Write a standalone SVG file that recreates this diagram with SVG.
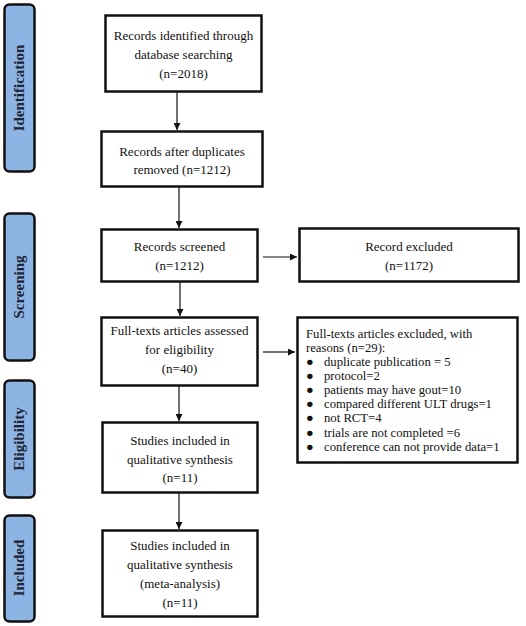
<svg xmlns="http://www.w3.org/2000/svg" width="526" height="626" viewBox="0 0 526 626">
<style>
.stage rect{fill:#8DB4E2;stroke:#111;stroke-width:2.5}
.stage text{font-family:"Liberation Serif",serif;font-weight:bold;font-size:15px;fill:#1C2538;text-anchor:middle}
.box rect{fill:#fff;stroke:#111;stroke-width:2.5}
.box text{font-family:"Liberation Serif",serif;font-size:13px;fill:#111;text-anchor:middle}
.box text.l{text-anchor:start;font-size:12.7px}
.conn line{stroke:#111;stroke-width:1.2;marker-end:url(#ah)}
</style>
<defs>
<marker id="ah" viewBox="0 0 10 10" refX="10" refY="5" markerWidth="8" markerHeight="7" markerUnits="userSpaceOnUse" orient="auto">
<path d="M0,0 L10,5 L0,10 z" fill="#111"/>
</marker>
</defs>
<rect width="526" height="626" fill="#fff"/>
<g id="stage-identification" class="stage"><rect x="4.5" y="4.5" width="30" height="167" rx="5"/><text transform="translate(24,88) rotate(-90)">Identification</text></g>
<g id="stage-screening" class="stage"><rect x="4.5" y="213.5" width="30" height="147" rx="5"/><text transform="translate(24,287) rotate(-90)">Screening</text></g>
<g id="stage-eligibility" class="stage"><rect x="4.5" y="380.5" width="30" height="117" rx="5"/><text transform="translate(24,439) rotate(-90)">Eligibility</text></g>
<g id="stage-included" class="stage"><rect x="4.5" y="515.5" width="30" height="106" rx="5"/><text transform="translate(24,568) rotate(-90)">Included</text></g>
<g id="n1" class="box"><rect x="105.5" y="15.5" width="156" height="76"/><text x="183.5" y="39.5">Records identified through</text><text x="183.5" y="58.5">database searching</text><text x="183.5" y="77.5">(n=2018)</text></g>
<g id="n2" class="box"><rect x="101.5" y="131.5" width="161" height="55"/><text x="182" y="155.5">Records after duplicates</text><text x="182" y="173.5">removed (n=1212)</text></g>
<g id="n3" class="box"><rect x="101.5" y="229.5" width="156" height="52"/><text x="179.5" y="251">Records screened</text><text x="179.5" y="270">(n=1212)</text></g>
<g id="n4" class="box"><rect x="299.5" y="228.5" width="219" height="53"/><text x="409" y="251">Record excluded</text><text x="409" y="270">(n=1172)</text></g>
<g id="n5" class="box"><rect x="101.5" y="317.5" width="156" height="68"/><text x="179.5" y="335">Full-texts articles assessed</text><text x="179.5" y="353.5">for eligibility</text><text x="179.5" y="373">(n=40)</text></g>
<g id="n6" class="box"><rect x="297.5" y="317.5" width="220" height="145"/>
<text class="l" x="306" y="337.5">Full-texts articles excluded, with</text>
<text class="l" x="306" y="351.5">reasons (n=29):</text>
<text class="l" x="306" y="365.5">●</text><text class="l" x="324" y="365.5">duplicate publication = 5</text>
<text class="l" x="306" y="380">●</text><text class="l" x="324" y="380">protocol=2</text>
<text class="l" x="306" y="394">●</text><text class="l" x="324" y="394">patients may have gout=10</text>
<text class="l" x="306" y="408">●</text><text class="l" x="324" y="408">compared different ULT drugs=1</text>
<text class="l" x="306" y="422">●</text><text class="l" x="324" y="422">not RCT=4</text>
<text class="l" x="306" y="437">●</text><text class="l" x="324" y="437">trials are not completed =6</text>
<text class="l" x="306" y="451">●</text><text class="l" x="324" y="451">conference can not provide data=1</text>
</g>
<g id="n7" class="box"><rect x="102.5" y="422.5" width="155" height="70"/><text x="180" y="445">Studies included in</text><text x="180" y="463.5">qualitative synthesis</text><text x="180" y="482">(n=11)</text></g>
<g id="n8" class="box"><rect x="102.5" y="530.5" width="155" height="86"/><text x="180" y="550">Studies included in</text><text x="180" y="569">qualitative synthesis</text><text x="180" y="588">(meta-analysis)</text><text x="180" y="607">(n=11)</text></g>
<g id="connectors" class="conn">
<line x1="177" y1="92" x2="177" y2="130"/>
<line x1="179" y1="187" x2="179" y2="228"/>
<line x1="263" y1="257" x2="297" y2="257"/>
<line x1="180" y1="282" x2="180" y2="316"/>
<line x1="263" y1="352" x2="295" y2="352"/>
<line x1="179" y1="386" x2="179" y2="421"/>
<line x1="179" y1="493" x2="179" y2="529"/>
</g>
</svg>
